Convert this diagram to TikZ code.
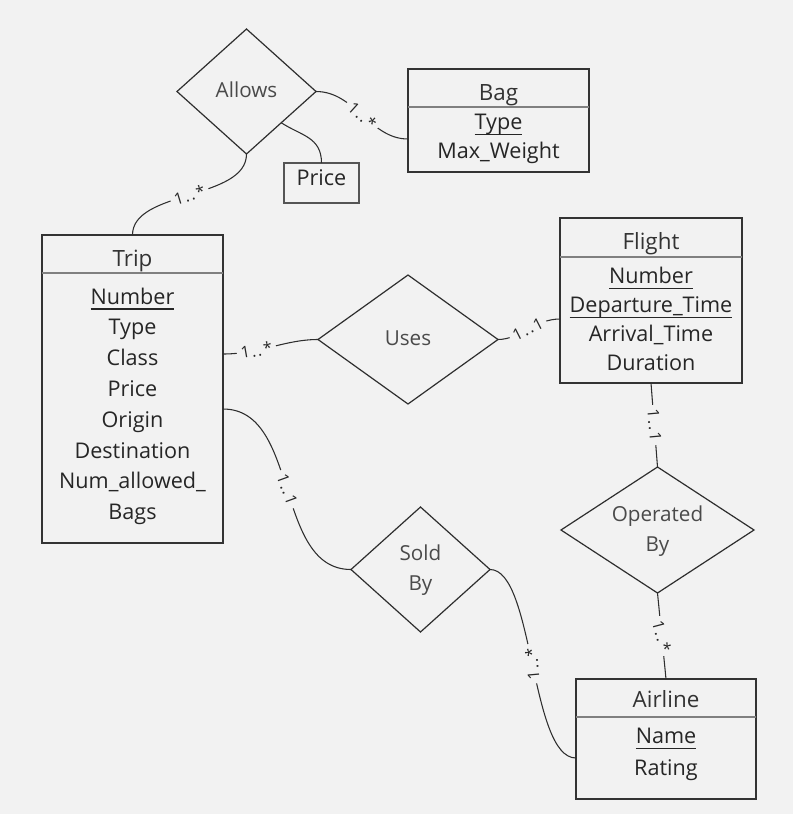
\documentclass[tikz,border=0pt]{standalone}
\usepackage{fontspec}
\setmainfont{Open Sans}
\usetikzlibrary{shapes.geometric,calc}
\definecolor{bg}{HTML}{F2F2F2}
\definecolor{ink}{HTML}{262626}
\definecolor{titlec}{HTML}{333333}
\definecolor{relc}{HTML}{4A4A4A}
\definecolor{boxc}{HTML}{333333}
\definecolor{divc}{HTML}{808080}
\definecolor{lnc}{HTML}{2E2E2E}
\definecolor{pricec}{HTML}{555555}
\newcommand\keyattr[1]{\setbox0\hbox{#1}\rlap{\rule[-4.6pt]{\wd0}{1.4pt}}\box0}
\newcommand\cardtxt[2]{1\kern1.3pt.\kern1.3pt.\kern1.3pt#2}
\begin{document}
\begin{tikzpicture}[x=0.75pt,y=-0.75pt,
 entity/.style={draw=boxc, line width=1pt, rectangle, inner sep=0pt, outer sep=0pt},
 attrbox/.style={draw=pricec, line width=0.8pt, rectangle, inner sep=0pt, outer sep=0pt},
 rel/.style={draw=lnc, line width=0.9pt, diamond, inner sep=0pt, outer sep=0pt},
 divider/.style={draw=divc, line width=1.1pt},
 conn/.style={draw=lnc, line width=0.8pt},
 ttl/.style={anchor=base, text=titlec, font=\fontsize{16.8}{20}\selectfont, inner sep=0pt},
 attr/.style={anchor=base, text=ink, font=\fontsize{16.2}{19}\selectfont, inner sep=0pt},
 reltxt/.style={anchor=base, text=relc, font=\fontsize{15.5}{18}\selectfont, inner sep=0pt},
 card/.style={fill=bg, text=ink, font=\fontsize{12}{14}\selectfont, inner xsep=3pt, inner ysep=1pt}]
\fill[bg] (0,0) rectangle (793,814);
\useasboundingbox (0,0) rectangle (793,814);

% entities
\node[entity, minimum width=135.75pt, minimum height=231pt] (trip) at (132.5,389) {};
\node[entity, minimum width=135.75pt, minimum height=77.25pt] (bag) at (498.5,120.5) {};
\node[entity, minimum width=136.5pt, minimum height=123.75pt] (flight) at (651,300.5) {};
\node[entity, minimum width=135pt, minimum height=90pt] (airline) at (666,739) {};
\node[attrbox, minimum width=56.25pt, minimum height=30pt] (price) at (321.5,183) {};

\draw[divider] ($(trip.north west)+(0,38)$) -- ($(trip.north east)+(0,38)$);
\draw[divider] ($(bag.north west)+(0,38)$) -- ($(bag.north east)+(0,38)$);
\draw[divider] ($(flight.north west)+(0,39)$) -- ($(flight.north east)+(0,39)$);
\draw[divider] ($(airline.north west)+(0,38)$) -- ($(airline.north east)+(0,38)$);

% relationships
\node[rel, minimum width=104.25pt, minimum height=93.75pt] (allows) at (246.5,91.5) {};
\node[rel, minimum width=135pt, minimum height=96.75pt] (uses) at (408,339.5) {};
\node[rel, minimum width=144.75pt, minimum height=94.5pt] (operated) at (657.5,530) {};
\node[rel, minimum width=104.25pt, minimum height=93.75pt] (sold) at (420.5,569.5) {};

% texts
\node[ttl] (tript) at (132.5,266) {Trip};
\node[attr] (trip1) at (132.5,304) {\keyattr{Number}};
\node[attr] (trip2) at (132.5,334.8) {Type};
\node[attr] (trip3) at (132.5,365.6) {Class};
\node[attr] (trip4) at (132.5,396.4) {Price};
\node[attr] (trip5) at (132.5,427.2) {Origin};
\node[attr] (trip6) at (132.5,458) {Destination};
\node[attr] (trip7) at (132.5,488.8) {Num\_allowed\_};
\node[attr] (trip8) at (132.5,519.6) {Bags};

\node[ttl] (flightt) at (651,249) {Flight};
\node[attr] (flight1) at (651,283.3) {\keyattr{Number}};
\node[attr] (flight2) at (651,312.3) {\keyattr{Departure\_Time}};
\node[attr] (flight3) at (651,341.7) {Arrival\_Time};
\node[attr] (flight4) at (651,370.5) {Duration};

\node[ttl] (bagt) at (498.5,100.7) {Bag};
\node[attr] (bag1) at (498.5,129.3) {\keyattr{Type}};
\node[attr] (bag2) at (498.5,158.3) {Max\_Weight};

\node[ttl] (airlinet) at (666,707.7) {Airline};
\node[attr] (airline1) at (666,743.3) {\keyattr{Name}};
\node[attr] (airline2) at (666,775.7) {Rating};

\node[attr] (pricet) at (321.5,185.7) {Price};

\node[reltxt] (allowst) at (246.5,97.3) {Allows};
\node[reltxt] (usest) at (408,345) {Uses};
\node[reltxt] (operatedt1) at (657.5,521.7) {Operated};
\node[reltxt] (operatedt2) at (657.5,551.7) {By};
\node[reltxt] (soldt1) at (420.5,560.7) {Sold};
\node[reltxt] (soldt2) at (420.5,590) {By};

% connectors
\draw[conn] (allows.south) .. controls +(0,46) and +(0,-45) .. (trip.north)
  node[card, pos=0.5, rotate=17] (c1) {\cardtxt{1}{*}};
\draw[conn] (allows.east) .. controls +(39,0) and +(-38,0) .. ($(bag.west)+(0,18.5)$)
  node[card, pos=0.5, rotate=-42] (c2) {\cardtxt{1}{*}};
\draw[conn] (allows.south east) .. controls +(20,13) and +(0,-26) .. (price.north);
\draw[conn] ($(trip.east)+(0,-35)$) .. controls +(37,0) and +(-33,0) .. (uses.west)
  node[card, pos=0.33, rotate=10] (c3) {\cardtxt{1}{*}};
\draw[conn] (uses.east) .. controls +(22,0) and +(-25,0) .. ($(flight.west)+(0,18.5)$)
  node[card, pos=0.5, rotate=27] (c4) {\cardtxt{1}{1}};
\draw[conn] (flight.south) -- (operated.north)
  node[card, pos=0.5, rotate=-85] (c5) {\cardtxt{1}{1}};
\draw[conn] (operated.south) -- (airline.north)
  node[card, pos=0.5, rotate=-75] (c6) {\cardtxt{1}{*}};
\draw[conn] ($(trip.east)+(0,20)$) .. controls +(77,0) and +(-77,0) .. (sold.west)
  node[card, pos=0.5, rotate=-70] (c7) {\cardtxt{1}{1}};
\draw[conn] (sold.east) .. controls +(44,0) and +(-46,0) .. ($(airline.west)+(0,19)$)
  node[card, pos=0.5, rotate=95] (c8) {\cardtxt{1}{*}};
\end{tikzpicture}
\end{document}
